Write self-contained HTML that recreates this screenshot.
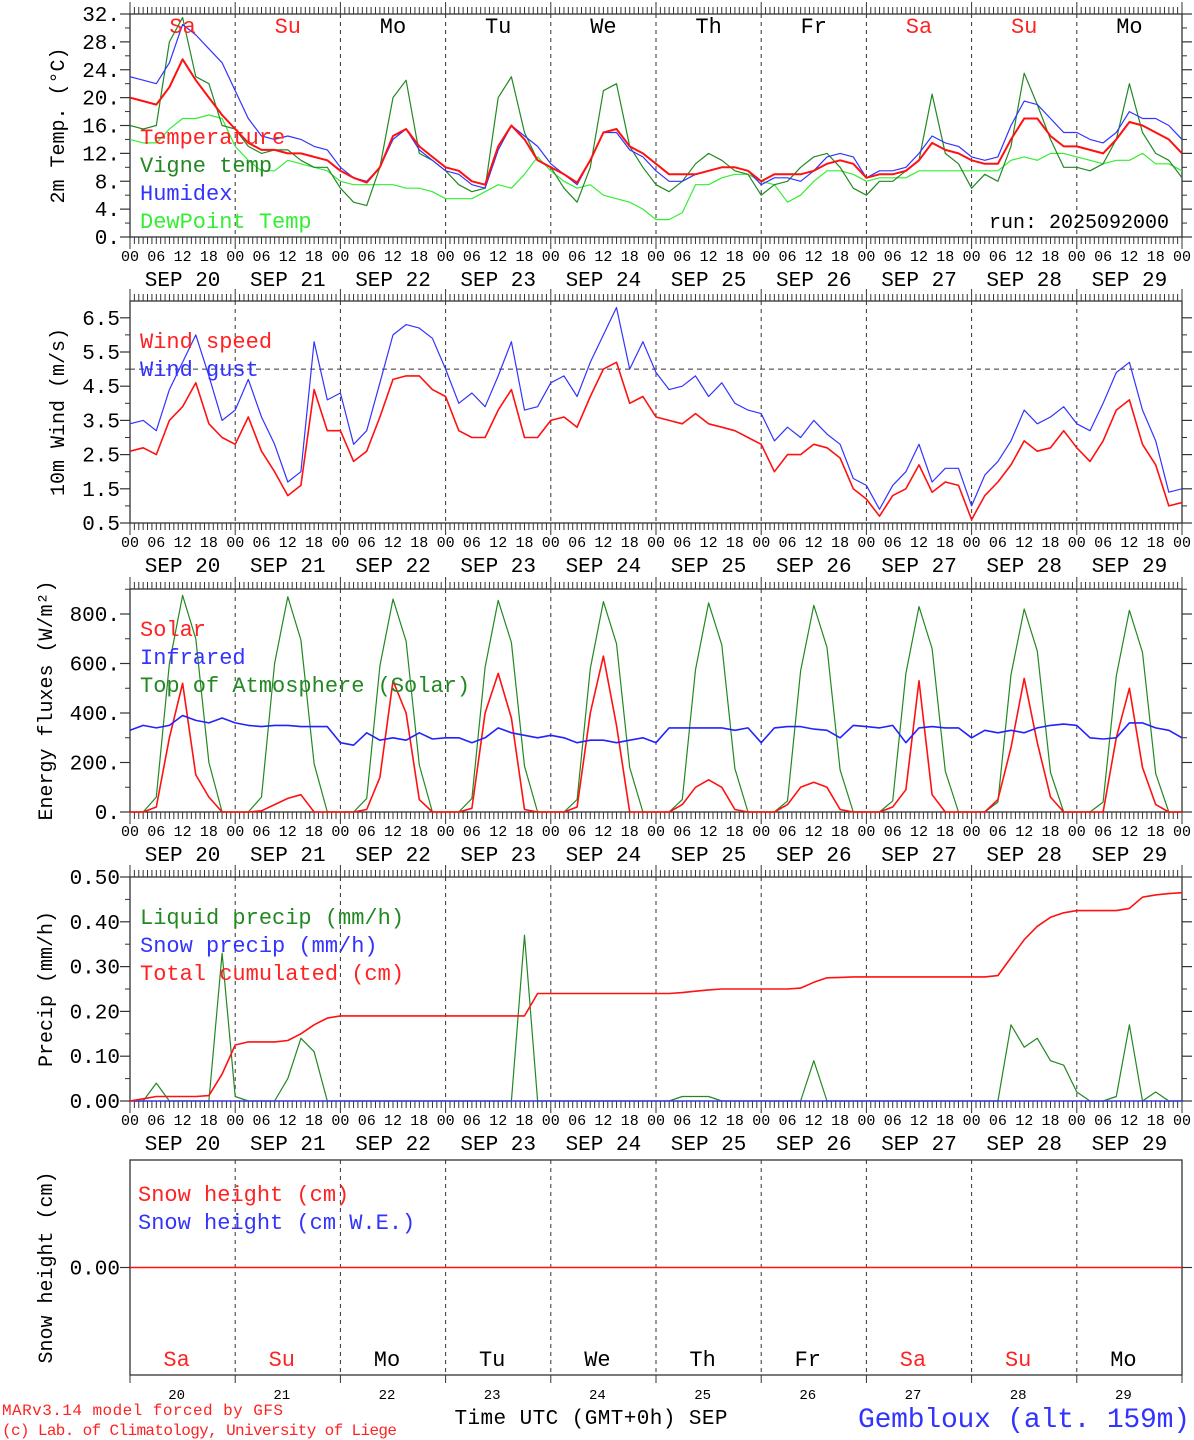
<!DOCTYPE html>
<html><head><meta charset="utf-8">
<style>
html,body{margin:0;padding:0;background:#fff;}
svg{display:block;font-family:"Liberation Mono",monospace;}
</style></head>
<body>
<svg id="chart" width="1194" height="1440" viewBox="0 0 1194 1440" xmlns="http://www.w3.org/2000/svg"></svg>
<script>
// ---- data (3-hourly, Sep 20 00UTC .. Sep 30 00UTC, 81 points) ----
const days = ["SEP 20","SEP 21","SEP 22","SEP 23","SEP 24","SEP 25","SEP 26","SEP 27","SEP 28","SEP 29"];
const weekdays = ["Sa","Su","Mo","Tu","We","Th","Fr","Sa","Su","Mo"];
const dayNums = ["20","21","22","23","24","25","26","27","28","29"];
const hourLabels = ["00","06","12","18"];
const tempTicks = [0,4,8,12,16,20,24,28,32];
const windTicks = [0.5,1.5,2.5,3.5,4.5,5.5,6.5];
const fluxTicks = [0,200,400,600,800];
const precipTicks = [0,0.1,0.2,0.3,0.4,0.5];

const temperature = [20,19.5,19,21.5,25.5,22.5,20,17.5, 15.5,13.5,12.5,12.5,12,12,11.5,11, 9.5,8.5,7.8,10,14.5,15.5,13,11.5, 10,9.5,8,7.5,13,16,14,11, 10,9,7.8,11,15,15.5,13,12, 10.5,9,9,9,9.5,10,10,9.5, 8,9,9,9,9.5,10.5,11,10.5, 8.5,9,9,9.5,11,13.5,12.5,12, 11,10.5,10.5,14,17,17,14.5,13, 13,12.5,12,14,16.5,16,15,14, 12];
const vigne = [16,15.5,16,28,31.5,23,22,16, 15.5,13,12,12.5,12.5,11,10,10, 7,5,4.5,10,20,22.5,12,11, 9.5,7.5,6.5,7,20,23,15,11, 10,7,5,10,21,22,13,10, 7.5,6.5,8,10.5,12,11,9.5,9, 6,7.5,8,10,11.5,12,10,7, 6,8,8,9.5,11,20.5,12,10.5, 7,9,8,13,23.5,19,14,10, 10,9.5,10.5,14,22,15,12,11, 8.5];
const humidex = [23,22.5,22,25,30.5,29,27,25, 21,17,14.5,14,14.5,14,13,12.5, 10,8.5,8,10,14,15.5,12.5,11, 9.5,9,7.5,7,12.5,16,14.5,13, 10.5,9,7.5,11,15,15,12.5,11.5, 9.5,8,8,9,9.5,10,10,9.5, 7.5,8.5,8.5,8,9.5,11.5,12,11.5, 8.5,9.5,9.5,10,12,14.5,13.5,13, 11.5,11,11.5,16,19.5,19,17,15, 15,14,13.5,15,18,17,17,16, 14];
const dewpoint = [14,13.5,13.5,15.5,17,17,17.5,17, 13,11,9.5,9.5,11,10.5,10,9.5, 8,7.5,7.5,7.5,7.5,7,7,6.5, 5.5,5.5,5.5,6.5,7.5,7,9,11.5, 9.5,8,7,7.5,6,5.5,5,4, 2.5,2.5,3.5,7.5,7.5,8.5,9,9, 8,7.5,5,6,8,9.5,9.5,9, 8,8.5,8.5,8.5,9.5,9.5,9.5,9.5, 9.5,9.5,9.5,11,11.5,11,12,12, 11.5,11,10.5,11,11,12,10.5,10.5, 9.5];

const windSpeed = [2.6,2.7,2.5,3.5,3.9,4.6,3.4,3.0, 2.8,3.6,2.6,2.0,1.3,1.6,4.4,3.2, 3.2,2.3,2.6,3.6,4.7,4.8,4.8,4.4, 4.2,3.2,3.0,3.0,3.8,4.4,3.0,3.0, 3.5,3.6,3.3,4.2,5.0,5.2,4.0,4.2, 3.6,3.5,3.4,3.7,3.4,3.3,3.2,3.0, 2.8,2.0,2.5,2.5,2.8,2.7,2.4,1.5, 1.2,0.7,1.3,1.5,2.2,1.4,1.7,1.6, 0.6,1.3,1.7,2.2,2.9,2.6,2.7,3.2, 2.7,2.3,2.9,3.8,4.1,2.8,2.2,1.0, 1.1];
const windGust = [3.4,3.5,3.2,4.4,5.2,6.0,4.8,3.5, 3.8,4.7,3.6,2.8,1.7,2.0,5.8,4.1, 4.3,2.8,3.2,4.6,6.0,6.3,6.2,5.9, 5.0,4.0,4.3,3.9,4.8,5.8,3.8,3.9, 4.6,4.8,4.2,5.2,6.0,6.8,5.0,5.8, 4.9,4.4,4.5,4.8,4.2,4.6,4.0,3.8, 3.7,2.9,3.3,3.0,3.5,3.1,2.8,1.8, 1.6,0.9,1.6,2.0,2.8,1.7,2.1,2.1, 1.0,1.9,2.3,2.9,3.8,3.4,3.6,3.9, 3.4,3.2,4.0,4.9,5.2,3.8,2.9,1.4, 1.5];

const solar = [0,0,20,300,520,150,60,0, 0,0,5,30,55,70,0,0, 0,0,10,140,530,400,50,0, 0,0,15,400,560,380,10,0, 0,0,20,400,630,350,0,0, 0,0,30,100,130,100,10,0, 0,0,30,100,120,100,10,0, 0,0,20,90,530,70,0,0, 0,0,50,260,540,280,60,0, 0,0,0,300,500,180,30,0, 0];
const infrared = [330,350,340,350,390,370,360,380, 360,350,345,350,350,345,345,345, 280,270,320,290,300,290,320,295, 300,300,280,300,340,320,310,300, 310,300,280,290,290,280,290,300, 280,340,340,340,340,340,330,340, 280,340,345,345,335,330,300,350, 345,340,350,280,340,345,340,340, 300,330,320,330,320,340,350,355, 350,300,295,300,360,360,340,330, 300];
const toa = [0,0,60,600,875,700,200,0, 0,0,60,600,870,695,195,0, 0,0,55,590,860,690,190,0, 0,0,55,585,855,685,185,0, 0,0,50,580,850,680,180,0, 0,0,50,575,845,675,175,0, 0,0,45,570,835,665,170,0, 0,0,45,560,830,660,165,0, 0,0,40,555,820,650,160,0, 0,0,40,550,815,645,155,0, 0];

const liquidPrecip = [0,0,0.04,0,0,0,0,0.33, 0.01,0,0,0,0.05,0.14,0.11,0, 0,0,0,0,0,0,0,0, 0,0,0,0,0,0,0.37,0, 0,0,0,0,0,0,0,0, 0,0,0.01,0.01,0.01,0,0,0, 0,0,0,0,0.09,0,0,0, 0,0,0,0,0,0,0,0, 0,0,0,0.17,0.12,0.14,0.09,0.08, 0.02,0,0,0.01,0.17,0,0.02,0, 0];
const snowPrecip = new Array(81).fill(0);
const cumulPrecip = [0,0.005,0.01,0.01,0.01,0.01,0.012,0.06, 0.125,0.132,0.132,0.132,0.135,0.15,0.17,0.185, 0.19,0.19,0.19,0.19,0.19,0.19,0.19,0.19, 0.19,0.19,0.19,0.19,0.19,0.19,0.19,0.24, 0.24,0.24,0.24,0.24,0.24,0.24,0.24,0.24, 0.24,0.24,0.242,0.245,0.248,0.25,0.25,0.25, 0.25,0.25,0.25,0.252,0.265,0.275,0.276,0.277, 0.277,0.277,0.277,0.277,0.277,0.277,0.277,0.277, 0.277,0.277,0.28,0.32,0.36,0.39,0.41,0.42, 0.425,0.425,0.425,0.425,0.43,0.455,0.46,0.463, 0.465];
const snowHeight = new Array(81).fill(0);

// ---- layout ----
const NS="http://www.w3.org/2000/svg";
const svg=document.getElementById('chart');
const X0=130, X1=1182, HOURS=240;
const xh = h => X0 + (X1-X0)*h/HOURS;
function el(tag, attrs, parent){const e=document.createElementNS(NS,tag);for(const k in attrs)e.setAttribute(k,attrs[k]);(parent||svg).appendChild(e);return e;}
function txt(s, x, y, attrs, parent){const e=el('text',Object.assign({x:x,y:y},attrs),parent);e.textContent=s;return e;}

const panels=[
 {name:'temperature-panel',top:14,bot:237,min:0,max:32,ticks:tempTicks,fmt:v=>v+'.',title:'2m Temp. (°C)',tx:64},
 {name:'wind-panel',top:301,bot:523,min:0.5,max:0.5+222/34.2,ticks:windTicks,fmt:v=>v.toFixed(1),title:'10m Wind (m/s)',tx:64},
 {name:'flux-panel',top:589,bot:812,min:0,max:223/0.2475,ticks:fluxTicks,fmt:v=>v+'.',title:'Energy fluxes (W/m²)',tx:52},
 {name:'precip-panel',top:877,bot:1101,min:0,max:0.5,ticks:precipTicks,fmt:v=>v.toFixed(2),title:'Precip (mm/h)',tx:52},
 {name:'snow-panel',top:1160,bot:1375,min:-1,max:1,ticks:[0],fmt:v=>v.toFixed(2),title:'Snow height (cm)',tx:52}
];
panels.forEach(p=>{p.y=v=>p.bot-(v-p.min)/(p.max-p.min)*(p.bot-p.top);});

function drawFrame(p, idx){
  const g=el('g',{});
  
  
  el('rect',{x:X0,y:p.top,width:X1-X0,height:p.bot-p.top,fill:'none',stroke:'#333','stroke-width':1.3},g);
  for(let d=1;d<10;d++){const x=xh(d*24);el('line',{x1:x,x2:x,y1:p.top,y2:p.bot,stroke:'#333','stroke-dasharray':'4,4','stroke-width':1},g);}
  if(idx<4){
    for(let h=0;h<=HOURS;h++){const x=xh(h);const L=(h%24==0)?12:7;
      el('line',{x1:x,x2:x,y1:p.top,y2:p.top-L,stroke:'#333','stroke-width':1},g);
      el('line',{x1:x,x2:x,y1:p.bot,y2:p.bot+L,stroke:'#333','stroke-width':1},g);}
    const lab=el('g',{'font-size':15,fill:'#000','text-anchor':'middle'},g);
    
    
    for(let d=0;d<=10;d++){for(let k=0;k<4;k++){if(d==10&&k>0)break;
      txt(hourLabels[k],xh(d*24+k*6),p.bot+24,{},lab);}}
    for(let d=0;d<10;d++) txt(days[d],xh(d*24+12),p.bot+49,{'font-size':21},lab);
  } else {
    for(let d=0;d<=10;d++){const x=xh(d*24);el('line',{x1:x,x2:x,y1:p.bot,y2:p.bot+8,stroke:'#333','stroke-width':1},g);}
  }
  p.ticks.forEach(v=>{const y=p.y(v);
    el('line',{x1:X0-10,x2:X0,y1:y,y2:y,stroke:'#333','stroke-width':1.2},g);
    el('line',{x1:X1,x2:X1+10,y1:y,y2:y,stroke:'#333','stroke-width':1.2},g);
    txt(p.fmt(v),X0-10,y+7,{'font-size':21,'text-anchor':'end'},g);});
  if(p.ticks.length>1){const step=(p.ticks[1]-p.ticks[0])/2;
    for(let v=p.ticks[0]+step;v<p.max;v+=2*step){const y=p.y(v);if(y<p.top)break;
      el('line',{x1:X0-5,x2:X0,y1:y,y2:y,stroke:'#333'},g);el('line',{x1:X1,x2:X1+5,y1:y,y2:y,stroke:'#333'},g);}}
  const cy=(p.top+p.bot)/2;
  const t=txt(p.title,0,0,{'font-size':20,'text-anchor':'middle',transform:`translate(${p.tx},${cy}) rotate(-90)`},g);
  
  
  return g;
}
function series(p, arr, color, w, name){
  const pts=arr.map((v,i)=>`${xh(i*3).toFixed(1)},${p.y(v).toFixed(1)}`).join(' ');
  const e=el('polyline',{points:pts,fill:'none',stroke:color,'stroke-width':w,'stroke-linejoin':'round'});
  
  
  return e;
}
function legend(x,y,items){
  items.forEach((it,i)=>{const e=txt(it[0],x,y+i*28,{'font-size':22,fill:it[1]});
    
    });
}
panels.forEach((p,i)=>drawFrame(p,i));
panels.forEach((p,i)=>{const c=el('clipPath',{id:'c'+i});el('rect',{x:X0,y:p.top,width:X1-X0,height:p.bot-p.top},c);});

// Panel 1
const P1=panels[0];
[[dewpoint,'#33ee33',1.2,'dewpoint-line'],[vigne,'#228822',1.2,'vigne-temp-line'],[humidex,'#3333ff',1.2,'humidex-line'],[temperature,'#ff1111',2,'temperature-line']]
 .forEach(s=>series(P1,s[0],s[1],s[2],s[3]).setAttribute('clip-path','url(#c0)'));
for(let d=0;d<10;d++){const w=txt(weekdays[d],xh(d*24+12),33,{'font-size':22,'text-anchor':'middle',fill:(d==0||d==1||d==7||d==8)?'#ff2222':'#000'});
  
  }
legend(140,144,[['Temperature','#ff2222'],['Vigne temp','#228822'],['Humidex','#3333ff'],['DewPoint Temp','#33ee33']]);
const run=txt('run: 2025092000',1169,228,{'font-size':20,'text-anchor':'end'});



// Panel 2
const P2=panels[1];
const ref=el('line',{x1:X0,x2:X1,y1:P2.y(5),y2:P2.y(5),stroke:'#333','stroke-dasharray':'5,4'});


series(P2,windGust,'#3333ff',1.2,'wind-gust-line').setAttribute('clip-path','url(#c1)');
series(P2,windSpeed,'#ff1111',1.6,'wind-speed-line').setAttribute('clip-path','url(#c1)');
legend(140,348,[['Wind speed','#ff2222'],['Wind gust','#3333ff']]);

// Panel 3
const P3=panels[2];
series(P3,toa,'#228822',1.2,'toa-solar-line');
series(P3,solar,'#ff1111',1.6,'solar-line');
series(P3,infrared,'#2222ff',1.6,'infrared-line');
legend(140,636,[['Solar','#ff2222'],['Infrared','#3333ff'],['Top of Atmosphere (Solar)','#228822']]);

// Panel 4
const P4=panels[3];
series(P4,liquidPrecip,'#228822',1.2,'liquid-precip-line');
series(P4,snowPrecip,'#3333ff',1.2,'snow-precip-line');
series(P4,cumulPrecip,'#ff1111',1.6,'cumulated-precip-line');
legend(140,924,[['Liquid precip (mm/h)','#228822'],['Snow precip (mm/h)','#3333ff'],['Total cumulated (cm)','#ff2222']]);

// Panel 5
const P5=panels[4];
series(P5,snowHeight,'#ff1111',1.4,'snow-height-line');
legend(138,1201,[['Snow height (cm)','#ff2222'],['Snow height (cm W.E.)','#3333ff']]);
for(let d=0;d<10;d++){const w=txt(weekdays[d],xh(d*24+12)-6,1366,{'font-size':22,'text-anchor':'middle',fill:(d==0||d==1||d==7||d==8)?'#ff2222':'#000'});
  
  
  const n=txt(dayNums[d],xh(d*24+12)-6,1399,{'font-size':14,'text-anchor':'middle'});
  
  }
const xt=txt('Time UTC (GMT+0h) SEP',591,1424,{'font-size':21,'text-anchor':'middle',textLength:273});


const c1=txt('MARv3.14 model forced by GFS',2,1415,{'font-size':16,fill:'#ff2222',textLength:281});


const c2=txt('(c) Lab. of Climatology, University of Liege',2,1435,{'font-size':16,fill:'#ff2222',textLength:395});


const st=txt('Gembloux (alt. 159m)',1190,1427,{'font-size':28,fill:'#3333ff','text-anchor':'end',textLength:332});


</script>
</body></html>
